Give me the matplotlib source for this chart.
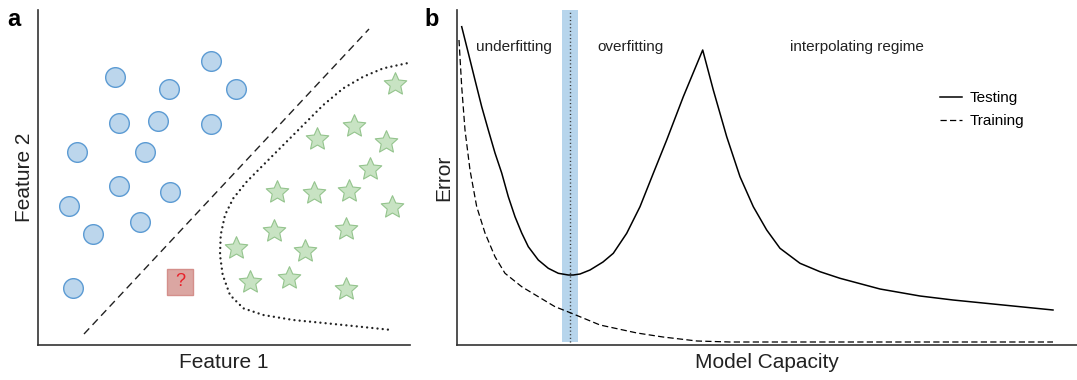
import matplotlib
matplotlib.use("Agg")
import numpy as np
import matplotlib.pyplot as plt
from matplotlib.patches import Rectangle
from matplotlib.path import Path

plt.rcParams['font.family'] = ['Liberation Sans', 'DejaVu Sans']

# ---------------- Panel a data (Feature 1, Feature 2) ----------------
circle_f1 = [77, 131, 173, 198, 81, 120, 173, 39, 107, 81, 132, 31, 102, 55, 35]
circle_f2 = [268, 256, 284, 256, 222, 224, 221, 193, 193, 159, 153, 139, 123, 111, 57]

star_f1 = [357, 316, 279, 348, 332, 239, 276, 311, 354, 236, 308, 198, 267, 212, 251, 308]
star_f2 = [261, 219, 206, 203, 176, 153, 152, 154, 138, 114, 116, 97, 94, 63, 67, 56]

query_f1, query_f2 = 142, 63

linear_boundary_f1 = [46, 331]
linear_boundary_f2 = [11, 316]

curved_boundary_f1 = [368.7, 345.3, 325.3, 305.3, 285.3, 265.3, 245.3, 225.3, 208.7, 195.3,
                      187, 182.7, 182, 184.7, 192, 205.3, 225.3, 255.3, 288.7, 322, 353.7]
curved_boundary_f2 = [281.7, 276.7, 268.3, 256.7, 240, 220, 200, 180, 163.3, 146.7,
                      130, 110, 90, 70, 50, 36.7, 30, 25, 21.7, 18.3, 15]

# ---------------- Panel b data (Model capacity, Error) ----------------
test_cap = [4.7, 11.3, 18, 24.7, 31.3, 38, 44.7, 51.3, 58, 64.7, 71.3, 81.3, 91.3, 101.3,
            111.3, 116.3, 123, 133, 146, 156.3, 169.7, 183, 196.3, 209.7, 226.3, 245.7,
            256.3, 269.7, 283, 296.3, 309.7, 323, 343, 363, 383, 423, 463, 496, 546, 596]
test_err = [318.3, 292, 265, 238.3, 215, 192, 172, 148.3, 128.3, 112, 98.3, 85, 76.7, 71.7,
            70, 70, 71, 75, 83, 91.7, 111.7, 138.3, 171.7, 205, 248.3, 295,
            255, 208.3, 168.3, 138.3, 115, 96.7, 81.7, 73.3, 66.7, 56, 49, 45, 40, 35]

train_cap = [2, 4.7, 8, 13, 19.7, 28, 38, 48, 64.7, 81.3, 98, 114.7, 143, 180, 206, 240, 273, 596]
train_err = [305, 258.3, 215, 175, 138.3, 112, 88.3, 71.7, 58.3, 48.3, 38.3, 31.7, 20, 12,
             8, 4, 3, 3]

sweet_spot = 113
sweet_band = (105, 121)

region_labels = ["underfitting", "overfitting", "interpolating regime"]
region_label_x = [19, 140, 333]

# custom plump five-pointed star marker (shape only)
ang = np.pi / 2 + np.arange(10) * np.pi / 5
rad = np.where(np.arange(10) % 2 == 0, 1.0, 0.47)
star_verts = np.column_stack([rad * np.cos(ang), rad * np.sin(ang)])
star_verts = np.vstack([star_verts, star_verts[:1]])
star_marker = Path(star_verts, closed=True)

fig = plt.figure(figsize=(10.77, 3.80), dpi=100)

W, H = 1077.0, 380.0
axa = fig.add_axes([38 / W, (380 - 345) / H, (410 - 38) / W, (345 - 10) / H])
axb = fig.add_axes([457 / W, (380 - 345) / H, (1077 - 457) / W, (345 - 10) / H])

spine_col = '#333333'
for ax in (axa, axb):
    for s in ('top', 'right'):
        ax.spines[s].set_visible(False)
    for s in ('left', 'bottom'):
        ax.spines[s].set_color(spine_col)
        ax.spines[s].set_linewidth(1.2)
    ax.set_xticks([])
    ax.set_yticks([])

# ---- Panel a ----
axa.set_xlim(0, 372)
axa.set_ylim(0, 335)
axa.plot(linear_boundary_f1, linear_boundary_f2, color='#222222', lw=1.0,
         dashes=(5.5, 3.5))
axa.plot(curved_boundary_f1, curved_boundary_f2, color='#222222', lw=1.7,
         linestyle=(0, (0.01, 2.2)), dash_capstyle='round')
axa.scatter(circle_f1, circle_f2, s=200, c='#bcd6ec', edgecolors='#5c9bd3',
            linewidths=1.0, zorder=3)
axa.scatter(star_f1, star_f2, s=290, marker=star_marker, c='#c8e3c3',
            edgecolors='#94c48d', linewidths=0.8, zorder=3)
axa.add_patch(Rectangle((query_f1 - 13, query_f2 - 13), 26, 26, facecolor='#dba6a2',
                        edgecolor='#d48f8b', lw=1.0, zorder=3))
axa.text(query_f1, query_f2, '?', color='#e8212a', fontsize=13, ha='center',
         va='center', zorder=4)
axa.set_xlabel('Feature 1', fontsize=15, labelpad=6, color='#222222')
axa.set_ylabel('Feature 2', fontsize=15, labelpad=3, color='#222222')

# ---- Panel b ----
axb.set_xlim(0, 620)
axb.set_ylim(0, 335)
axb.axvspan(sweet_band[0], sweet_band[1], ymin=3 / 335, ymax=1.0,
            color='#b7d5ec', lw=0, zorder=1)
axb.plot([sweet_spot, sweet_spot], [3, 335], color='#333333', lw=1.0,
         linestyle=(0, (0.8, 1.8)), zorder=2)
axb.plot(test_cap, test_err, color='black', lw=1.1, label='Testing', zorder=3)
axb.plot(train_cap, train_err, color='black', lw=0.9, dashes=(5, 2.6),
         label='Training', zorder=3)
for lab, lx in zip(region_labels, region_label_x):
    axb.text(lx, 298, lab, fontsize=11, ha='left', va='center', color='#222222')
axb.legend(loc='upper left', bbox_to_anchor=((940 - 457) / 620, (345 - 91) / 335),
           frameon=False, fontsize=11, borderpad=0, borderaxespad=0,
           handlelength=1.45, handletextpad=0.5, labelspacing=0.6)
axb.set_xlabel('Model Capacity', fontsize=15, labelpad=6, color='#222222')
axb.set_ylabel('Error', fontsize=15, labelpad=2.5, color='#222222')

fig.text(7 / W, 1 - 20 / H, 'a', fontsize=17, fontweight='bold', va='center', ha='left')
fig.text(424 / W, 1 - 20 / H, 'b', fontsize=17, fontweight='bold', va='center', ha='left')

fig.savefig('out.png', dpi=100)
